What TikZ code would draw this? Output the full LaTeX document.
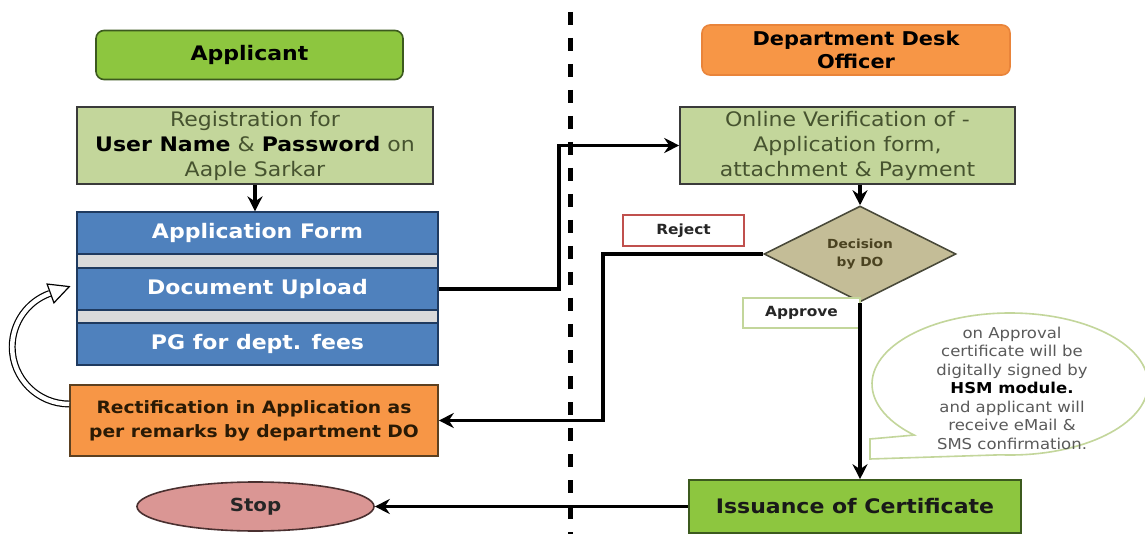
\documentclass[tikz,border=0pt]{standalone}
\usepackage{fontspec}
\setmainfont{DejaVu Sans}[FakeStretch=1.1]
\usetikzlibrary{arrows.meta,shapes.geometric,calc,backgrounds}

\definecolor{appgreen}{HTML}{8DC63F}
\definecolor{appedge}{HTML}{3C5A1E}
\definecolor{deskorange}{HTML}{F79646}
\definecolor{deskedge}{HTML}{E9843A}
\definecolor{sage}{HTML}{C3D69B}
\definecolor{boxedge}{HTML}{3A3A3A}
\definecolor{sagetext}{HTML}{46532F}
\definecolor{formblue}{HTML}{4F81BD}
\definecolor{formedge}{HTML}{1F3A5F}
\definecolor{gapgray}{HTML}{DADADA}
\definecolor{rectedge}{HTML}{5C4020}
\definecolor{recttext}{HTML}{2A1A05}
\definecolor{stoppink}{HTML}{DA9694}
\definecolor{stopedge}{HTML}{4A3030}
\definecolor{khaki}{HTML}{C4BD97}
\definecolor{khakiedge}{HTML}{4A4A3A}
\definecolor{khakitext}{HTML}{4A4220}
\definecolor{rejectred}{HTML}{C0504D}
\definecolor{notegray}{HTML}{5A5A5A}

\newcommand\boldpart[1]{{\color{black}\bfseries #1}}

\begin{document}
\begin{tikzpicture}[x=1pt,y=-1pt,
  lanehead/.style={rounded corners=8pt, line width=1.6pt, inner sep=0pt, align=center,
    font=\fontsize{20}{23}\selectfont\bfseries, text=black},
  sagebox/.style={fill=sage, draw=boxedge, line width=1.6pt, inner sep=0pt, align=center,
    text=sagetext, font=\fontsize{20}{25}\selectfont},
  formrow/.style={fill=formblue, draw=formedge, line width=1.2pt, inner sep=0pt,
    minimum width=361pt, minimum height=42pt, text=white,
    font=\fontsize{20}{24}\selectfont\bfseries},
  gaprow/.style={fill=gapgray, draw=formedge, line width=1.2pt, inner sep=0pt,
    minimum width=361pt},
  tag/.style={fill=white, line width=1.2pt, inner sep=0pt,
    font=\fontsize{14}{16}\selectfont\bfseries, text=black!85},
  flow/.style={line width=3.4pt, -{Stealth[length=15pt,width=15pt,inset=5pt]}},
  lane/.style={line width=5pt, dash pattern=on 13pt off 13pt},
]
\useasboundingbox (0,0) rectangle (1145,534);

% lane divider
\coordinate (lanetop) at (570,12);
\coordinate (lanebottom) at (570,534);

% bend points of the connectors
\coordinate (turnup) at (559,0);
\coordinate (turnreject) at (603,254);

% callout geometry
\coordinate (notecentre) at (1010,384);
\coordinate (tailtop) at (870,439);
\coordinate (tailtip) at (870,459);

\begin{scope}[on background layer]
  \fill[white] (0,0) rectangle (1145,534);
  \draw[lane] (lanetop) -- (lanebottom);
\end{scope}

% ---------- applicant lane ----------
\node[lanehead, fill=appgreen, draw=appedge, minimum width=307pt, minimum height=49pt]
  (applicant) at (249.5,55) {Applicant};

\node[sagebox, minimum width=356pt, minimum height=77pt] (register) at (255,145.5)
  {Registration for\\\boldpart{User Name} \& \boldpart{Password} on\\Aaple Sarkar};

\node[formrow] (form) at (257.5,233) {Application Form};
\node[gaprow, minimum height=14pt] (gapa) at (257.5,261) {};
\node[formrow] (upload) at (257.5,289) {Document Upload};
\node[gaprow, minimum height=13pt] (gapb) at (257.5,316.5) {};
\node[formrow] (fees) at (257.5,344) {PG for dept. fees};

\node[fill=deskorange, draw=rectedge, line width=1.6pt, inner sep=0pt, align=center,
  minimum width=368pt, minimum height=71pt, text=recttext,
  font=\fontsize{17}{24}\selectfont\bfseries] (rectify) at (254,420.5)
  {Rectification in Application as\\per remarks by department DO};

\node[ellipse, fill=stoppink, draw=stopedge, line width=1.6pt, inner sep=0pt,
  minimum width=237pt, minimum height=49pt, text=black!85,
  font=\fontsize{18}{20}\selectfont\bfseries] (stop) at (255.5,506.5) {Stop};

% ---------- desk officer lane ----------
\node[lanehead, fill=deskorange, draw=deskedge, minimum width=308pt, minimum height=50pt,
  font=\fontsize{19}{23}\selectfont\bfseries] (desk) at (856,50) {Department Desk\\Officer};

\node[sagebox, minimum width=335pt, minimum height=77pt] (online) at (847.5,145.5)
  {Online Verification of -\\Application form,\\attachment \& Payment};

\node[diamond, fill=khaki, draw=khakiedge, line width=1.6pt, inner sep=0pt, align=center,
  minimum width=192pt, minimum height=82pt, text=khakitext,
  font=\fontsize{12.5}{18}\selectfont\bfseries] (decide) at (860,254) {Decision\\by DO};

\node[tag, draw=rejectred, minimum width=121pt, minimum height=31pt] (reject) at (683.5,230.5) {Reject};
\node[tag, draw=sage, minimum width=117pt, minimum height=30pt] (approve) at (801.5,313) {Approve};

\node[fill=appgreen, draw=appedge, line width=1.6pt, inner sep=0pt,
  minimum width=332pt, minimum height=53pt, text=black!90,
  font=\fontsize{20}{24}\selectfont\bfseries] (issue) at (855,506.5) {Issuance of Certificate};

% callout bubble with its tail
\draw[sage, line width=1.6pt, fill=white]
  ($(notecentre)+(94:138 and 71)$) arc[start angle=94, end angle=-226, x radius=138, y radius=71]
  -- (tailtop) -- (tailtip) -- cycle;
\node[align=center, text=notegray, inner sep=0pt, font=\fontsize{15}{18.5}\selectfont]
  (note) at (1012,388)
  {on Approval\\certificate will be\\digitally signed by\\\boldpart{HSM module.}\\and applicant will\\receive eMail \&\\SMS confirmation.};

% ---------- connectors ----------
\draw[flow] (register.south) -- (register.south |- form.north);
\draw[flow] (upload.east) -- (upload.east -| turnup) |- (online.west);
\draw[flow] (decide.north |- online.south) -- (decide.north);
\draw[flow] (decide.west) -- (turnreject) |- (rectify.east);
\draw[flow] (decide.south) -- (decide.south |- issue.north);
\draw[flow] (issue.west) -- (stop.east);

% hollow loop-back arrow from the rectification box to the form
\coordinate (loopcentre) at (70,347);
\coordinate (loopend) at ($(loopcentre)+(250:57)$);
\draw[black, line width=1.2pt, fill=white]
  ($(loopend)+(0.342*10,0.94*10)$) -- ($(loopend)+(0.94*20,-0.342*20)$)
  -- ($(loopend)-(0.342*10,0.94*10)$) -- cycle;
\draw[double=white, double distance=4.5pt, line width=1.2pt]
  (rectify.west |- 0,404) arc[start angle=90, end angle=250, radius=57];
\end{tikzpicture}
\end{document}
